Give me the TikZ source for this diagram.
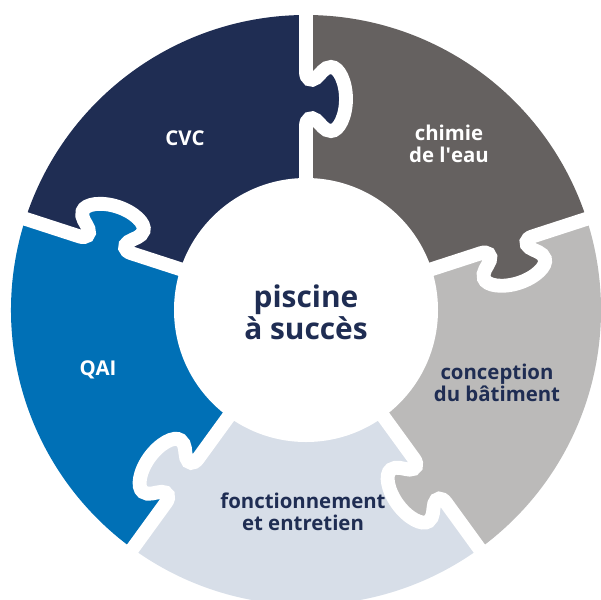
\documentclass[tikz,border=0pt]{standalone}
\usepackage{fontspec}
\setmainfont{Open Sans}
\usepackage{tikz}

\definecolor{cvcnavy}{RGB}{31,45,83}
\definecolor{chimiegray}{RGB}{101,97,96}
\definecolor{conceptgray}{RGB}{187,186,185}
\definecolor{fonctlight}{RGB}{215,222,232}
\definecolor{qaiblue}{RGB}{0,112,182}

\begin{document}
\begin{tikzpicture} [x=0.02cm, y=0.02cm,
    gap/.style = {draw=white, line width=7.9pt},
    piece/.style = {font=\bfseries\fontsize{11.6}{12.5}\selectfont,
    align=center},
    hub/.style = {font=\bfseries\fontsize{17}{17}\selectfont,
    align=center,
    text=cvcnavy}]

\useasboundingbox (-306,-289) rectangle (295,310);
\clip (-306,-289) rectangle (295,310);

\foreach \ang/\col in {90/cvcnavy, 18/chimiegray, -54/conceptgray, -126/fonctlight, 162/qaiblue}
  \fill[\col] (0,0) -- (\ang:295) arc[start angle=\ang, delta angle=72, radius=295] -- cycle;

\foreach \ang/\col in {90/cvcnavy, 18/chimiegray, -54/conceptgray, -126/fonctlight, 162/qaiblue}
  \fill[\col, rotate=\ang, yscale=-1] (184,-4) -- (184,0) .. controls (191,0) and (194,5) .. (190,10)
    .. controls (186,15) and (179,18) .. (179,25) .. controls (179,33) and (194,40) .. (211,40)
    .. controls (228,40) and (243,33) .. (243,25) .. controls (243,18) and (236,15) .. (232,10)
    .. controls (228,5) and (231,0) .. (238,0) -- (238,-4) -- cycle;

\foreach \ang in {90, 18, -54, -126, 162}
  \draw[gap, rotate=\ang, yscale=-1] (120,0) -- (184,0) .. controls (191,0) and (194,5) .. (190,10)
    .. controls (186,15) and (179,18) .. (179,25) .. controls (179,33) and (194,40) .. (211,40)
    .. controls (228,40) and (243,33) .. (243,25) .. controls (243,18) and (236,15) .. (232,10)
    .. controls (228,5) and (231,0) .. (238,0) -- (310,0);

\fill[white] (0,0) circle[radius=132];

\node (hubtext) at (0,-2) [hub] {piscine\\à succès};
\node (cvc) at (-121,172) [piece, text=white] {CVC};
\node (chimie) at (143,166) [piece, text=white] {chimie\\de l\textquotesingle eau};
\node (conception) at (191,-73) [piece, text=cvcnavy] {conception\\du bâtiment};
\node (fonct) at (-3,-202) [piece, text=cvcnavy] {fonctionnement\\et entretien};
\node (qai) at (-208,-60) [piece, text=white] {QAI};

\end{tikzpicture}
\end{document}
